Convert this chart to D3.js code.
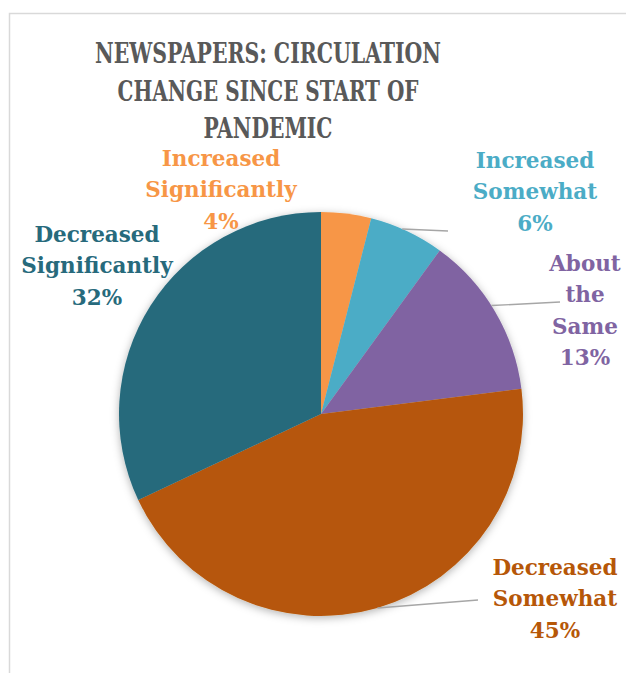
<!DOCTYPE html>
<html>
<head>
<meta charset="utf-8">
<script src="https://cdn.jsdelivr.net/npm/d3@7"></script>
<style>
  html, body { margin: 0; padding: 0; background: #ffffff; }
  svg { display: block; }
</style>
</head>
<body>
<svg id="chart" width="626" height="673"></svg>
<script>
// Survey answers, in clockwise order from 12 o'clock
const categories = [
  "Increased Significantly",
  "Increased Somewhat",
  "About the Same",
  "Decreased Somewhat",
  "Decreased Significantly"
];
const shares = [4, 6, 13, 45, 32];
const colors = ["#F79646", "#4BACC6", "#8064A2", "#B65708", "#276A7C"];
const titleLines = ["NEWSPAPERS: CIRCULATION", "CHANGE SINCE START OF", "PANDEMIC"];

// Label placement: centre x, first baseline, wrap width, leader end (or null),
// and where along the slice the leader touches the rim (0..1)
const labelLayout = [
  { x: 221, y: 166, wrap: 160, leader: null },
  { x: 535, y: 168, wrap: 140, leader: [448, 231], at: 0.43 },
  { x: 585, y: 271, wrap: 80,  leader: [560, 302], at: 0.46 },
  { x: 555, y: 575, wrap: 140, leader: [478, 600], at: 0.5 },
  { x: 97,  y: 242, wrap: 160, leader: null }
];

const svg = d3.select("#chart");
const cx = 321, cy = 414, radius = 202;
const lineGap = 31.3;

// Chart area border
svg.append("rect")
  .attr("x", 9.5).attr("y", 13.5)
  .attr("width", 700).attr("height", 700)
  .attr("fill", "#ffffff")
  .attr("stroke", "#d9d9d9").attr("stroke-width", 1.5);

// Soft shadow under the pie
const defs = svg.append("defs");
const shadow = defs.append("filter").attr("id", "pieShadow")
  .attr("x", "-20%").attr("y", "-20%").attr("width", "140%").attr("height", "140%");
shadow.append("feDropShadow")
  .attr("dx", 0).attr("dy", 2).attr("stdDeviation", 4)
  .attr("flood-color", "#000").attr("flood-opacity", 0.3);

// Title
const title = svg.append("g")
  .attr("font-family", "'DejaVu Serif Condensed', 'DejaVu Serif', serif")
  .attr("font-weight", "bold")
  .attr("font-size", 27.5)
  .attr("fill", "#595959")
  .attr("text-anchor", "middle");
const titleWidths = [346, 301, 129];
titleLines.forEach((t, i) => {
  title.append("text")
    .attr("x", 268).attr("y", 63 + i * 37.5)
    .attr("textLength", titleWidths[i])
    .attr("lengthAdjust", "spacingAndGlyphs")
    .text(t);
});

// Pie
const pie = d3.pie().sort(null).value(d => d)(shares);
const arc = d3.arc().innerRadius(0).outerRadius(radius);

const pieG = svg.append("g")
  .attr("transform", `translate(${cx},${cy})`)
  .attr("filter", "url(#pieShadow)");
pieG.selectAll("path")
  .data(pie)
  .join("path")
  .attr("d", arc)
  .attr("fill", (d, i) => colors[i]);

// Leader lines
pie.forEach((d, i) => {
  const L = labelLayout[i];
  if (!L.leader) return;
  const a = d.startAngle + (d.endAngle - d.startAngle) * L.at;
  const x0 = cx + radius * Math.sin(a);
  const y0 = cy - radius * Math.cos(a);
  svg.append("line")
    .attr("x1", x0).attr("y1", y0)
    .attr("x2", L.leader[0]).attr("y2", L.leader[1])
    .attr("stroke", "#a6a6a6").attr("stroke-width", 1.4);
});

// Data labels
const labels = svg.append("g")
  .attr("font-family", "'DejaVu Serif', serif")
  .attr("font-weight", "bold")
  .attr("font-size", 21.5)
  .attr("text-anchor", "middle");

function wrapWords(text, width, measure) {
  const words = text.split(" ");
  const lines = [];
  let cur = "";
  words.forEach(w => {
    const trial = cur ? cur + " " + w : w;
    if (cur && measure(trial) > width) { lines.push(cur); cur = w; }
    else cur = trial;
  });
  if (cur) lines.push(cur);
  return lines;
}

const probe = labels.append("text").attr("visibility", "hidden");
const measure = s => { probe.text(s); return probe.node().getComputedTextLength(); };

categories.forEach((c, i) => {
  const L = labelLayout[i];
  const lines = wrapWords(c, L.wrap, measure).concat([shares[i] + "%"]);
  const t = labels.append("text").attr("fill", colors[i]);
  lines.forEach((ln, j) => {
    t.append("tspan").attr("x", L.x).attr("y", L.y + j * lineGap).text(ln);
  });
});
probe.remove();
</script>
</body>
</html>
